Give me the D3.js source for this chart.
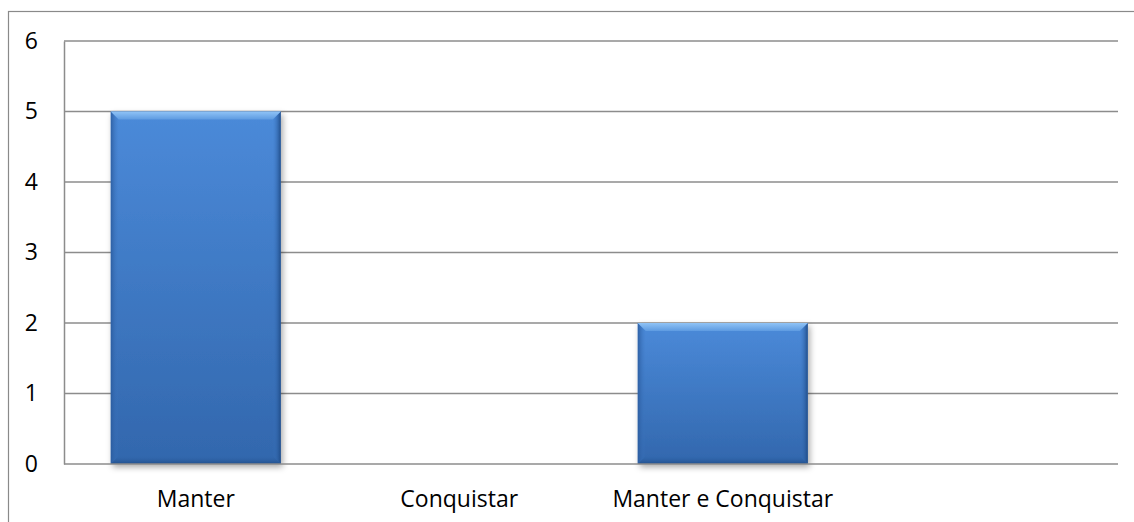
<!DOCTYPE html>
<html>
<head>
<meta charset="utf-8">
<script src="https://cdn.jsdelivr.net/npm/d3@7"></script>
<style>
  html, body { margin: 0; padding: 0; background: #fff; }
  svg { display: block; }
  text { font-family: "Open Sans", Lato, sans-serif; fill: #000; }
</style>
</head>
<body>
<svg id="chart" width="1134" height="522"></svg>
<script>
// Categories and values
const categories = ["Manter", "Conquistar", "Manter e Conquistar", ""];
const values = [5, 0, 2, 0];
const yTicks = [0, 1, 2, 3, 4, 5, 6];

const W = 1134, H = 522;
const margin = { left: 64, right: 16, top: 41, bottom: 58 };
const fontSize = 23;

const svg = d3.select("#chart");
const defs = svg.append("defs");

// Bar body gradient (vertical)
const body = defs.append("linearGradient").attr("id", "barBody")
  .attr("x1", 0).attr("y1", 0).attr("x2", 0).attr("y2", 1);
body.append("stop").attr("offset", "0%").attr("stop-color", "#4b8ad9");
body.append("stop").attr("offset", "100%").attr("stop-color", "#3267ad");

// Top bevel (light)
const topBevel = defs.append("linearGradient").attr("id", "bevelTop")
  .attr("x1", 0).attr("y1", 0).attr("x2", 0).attr("y2", 1);
topBevel.append("stop").attr("offset", "0%").attr("stop-color", "#8fc3f6");
topBevel.append("stop").attr("offset", "100%").attr("stop-color", "#5e9be1");

// Side bevels (dark)
const leftBevel = defs.append("linearGradient").attr("id", "bevelLeft")
  .attr("x1", 0).attr("y1", 0).attr("x2", 1).attr("y2", 0);
leftBevel.append("stop").attr("offset", "0%").attr("stop-color", "#2a5a9c").attr("stop-opacity", 0.85);
leftBevel.append("stop").attr("offset", "100%").attr("stop-color", "#3d78c4").attr("stop-opacity", 0);
const rightBevel = defs.append("linearGradient").attr("id", "bevelRight")
  .attr("x1", 1).attr("y1", 0).attr("x2", 0).attr("y2", 0);
rightBevel.append("stop").attr("offset", "0%").attr("stop-color", "#1f4b86").attr("stop-opacity", 0.95);
rightBevel.append("stop").attr("offset", "100%").attr("stop-color", "#3d78c4").attr("stop-opacity", 0);
const bottomBevel = defs.append("linearGradient").attr("id", "bevelBottom")
  .attr("x1", 0).attr("y1", 1).attr("x2", 0).attr("y2", 0);
bottomBevel.append("stop").attr("offset", "0%").attr("stop-color", "#1f4b86").attr("stop-opacity", 0.85);
bottomBevel.append("stop").attr("offset", "100%").attr("stop-color", "#2f63a8").attr("stop-opacity", 0);

// Soft shadow
const shadow = defs.append("filter").attr("id", "shadow")
  .attr("x", "-10%").attr("y", "-10%").attr("width", "130%").attr("height", "130%");
shadow.append("feDropShadow").attr("dx", 2).attr("dy", 3).attr("stdDeviation", 3)
  .attr("flood-color", "#000").attr("flood-opacity", 0.35);

// Outer chart border (only top/left fall inside the view)
svg.append("rect")
  .attr("x", 8.5).attr("y", 11.5)
  .attr("width", W + 20).attr("height", H + 20)
  .attr("fill", "none").attr("stroke", "#8a8a8a").attr("stroke-width", 1.2);

const x = d3.scaleBand()
  .domain(categories.map((d, i) => i))
  .range([margin.left, W - margin.right])
  .paddingInner(0.355)
  .paddingOuter(0.1775);

const y = d3.scaleLinear()
  .domain([0, 6])
  .range([H - margin.bottom, margin.top]);

// Gridlines
svg.append("g")
  .selectAll("line")
  .data(yTicks.filter(d => d > 0))
  .join("line")
  .attr("x1", margin.left).attr("x2", W - margin.right)
  .attr("y1", d => y(d)).attr("y2", d => y(d))
  .attr("stroke", "#8c8c8c").attr("stroke-width", 1.5);

// Y axis
const yAxis = svg.append("g")
  .attr("transform", `translate(${margin.left},0)`)
  .call(d3.axisLeft(y).tickValues(yTicks).tickSize(0).tickPadding(26).tickFormat(d3.format("d")));
yAxis.select(".domain").attr("stroke", "#8c8c8c").attr("stroke-width", 1.5);
yAxis.selectAll("text")
  .attr("font-size", fontSize).attr("font-family", "'Open Sans', sans-serif")
  .attr("fill", "#000");

// Bars
const bw = x.bandwidth();
const bev = 8;
const bars = svg.append("g").selectAll("g")
  .data(values.map((v, i) => ({ v, i })).filter(d => d.v > 0))
  .join("g")
  .attr("transform", d => `translate(${x(d.i)},${y(d.v)})`);

bars.append("rect")
  .attr("width", bw).attr("height", d => y(0) - y(d.v))
  .attr("fill", "url(#barBody)")
  .attr("filter", "url(#shadow)");

bars.append("path")
  .attr("d", d => {
    const h = y(0) - y(d.v);
    return `M0,0 L${bev},${bev} L${bev},${h - bev} L0,${h} Z`;
  })
  .attr("fill", "url(#bevelLeft)");

bars.append("path")
  .attr("d", d => {
    const h = y(0) - y(d.v);
    return `M${bw},0 L${bw - bev},${bev} L${bw - bev},${h - bev} L${bw},${h} Z`;
  })
  .attr("fill", "url(#bevelRight)");

bars.append("path")
  .attr("d", d => {
    const h = y(0) - y(d.v);
    return `M0,${h} L${bev},${h - bev} L${bw - bev},${h - bev} L${bw},${h} Z`;
  })
  .attr("fill", "url(#bevelBottom)");

bars.append("path")
  .attr("d", `M0,0 L${bw},0 L${bw - bev},${bev} L${bev},${bev} Z`)
  .attr("fill", "url(#bevelTop)");

// X axis baseline
svg.append("line")
  .attr("x1", margin.left).attr("x2", W - margin.right)
  .attr("y1", y(0)).attr("y2", y(0))
  .attr("stroke", "#8c8c8c").attr("stroke-width", 1.5);

// Category labels
svg.append("g").selectAll("text")
  .data(categories)
  .join("text")
  .attr("x", (d, i) => x(i) + bw / 2)
  .attr("y", 507)
  .attr("text-anchor", "middle")
  .attr("font-size", fontSize)
  .text(d => d);
</script>
</body>
</html>
